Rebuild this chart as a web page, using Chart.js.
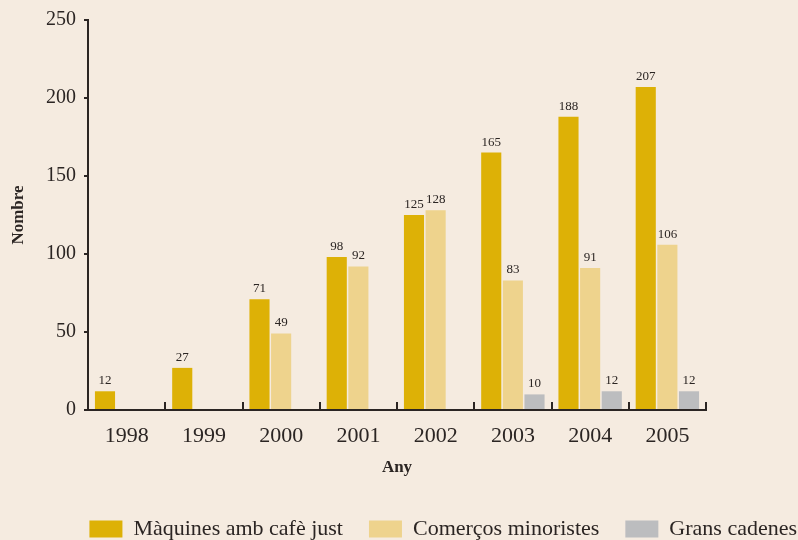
<!DOCTYPE html>
<html>
<head>
<meta charset="utf-8">
<script src="https://cdn.jsdelivr.net/npm/chart.js@4/dist/chart.umd.min.js"></script>
<style>
  html, body { margin: 0; padding: 0; background: #f5ebe0; }
  #wrap { width: 798px; height: 540px; }
</style>
</head>
<body>
<div id="wrap"><canvas id="grafic"></canvas></div>
<script>
const anys = ['1998', '1999', '2000', '2001', '2002', '2003', '2004', '2005'];
const maquines = [12, 27, 71, 98, 125, 165, 188, 207];
const comercos = [null, null, 49, 92, 128, 83, 91, 106];
const cadenes = [null, null, null, null, null, 10, 12, 12];
const yTicks = [0, 50, 100, 150, 200, 250];

const tinta = '#2b2523';
const serif = "'Liberation Serif', 'DejaVu Serif', serif";

// valors damunt de cada barra
const etiquetes = {
  id: 'etiquetes',
  afterDatasetsDraw(chart) {
    const c = chart.ctx;
    c.save();
    c.font = '13px ' + serif;
    c.fillStyle = tinta;
    c.textAlign = 'center';
    c.textBaseline = 'bottom';
    chart.data.datasets.forEach((ds, i) => {
      chart.getDatasetMeta(i).data.forEach((bar, j) => {
        if (ds.data[j] == null) return;
        c.fillText(ds.data[j], bar.x, bar.y - 4);
      });
    });
    c.restore();
  }
};

// marques de l'eix X cap amunt, entre categories
const marques = {
  id: 'marques',
  afterDraw(chart) {
    const x = chart.scales.x;
    const c = chart.ctx;
    const pas = (x.right - x.left) / anys.length;
    c.save();
    c.strokeStyle = tinta;
    c.lineWidth = 2;
    for (let i = 1; i <= anys.length; i++) {
      const px = Math.round(x.left + i * pas);
      c.beginPath();
      c.moveTo(px, x.top);
      c.lineTo(px, x.top - 8);
      c.stroke();
    }
    c.restore();
  }
};

new Chart(document.getElementById('grafic').getContext('2d'), {
  type: 'bar',
  data: {
    labels: anys,
    datasets: [
      { label: 'Màquines amb cafè just', data: maquines, backgroundColor: '#ddb106' },
      { label: 'Comerços minoristes', data: comercos, backgroundColor: '#eed38d' },
      { label: 'Grans cadenes', data: cadenes, backgroundColor: '#bcbdbf' }
    ]
  },
  options: {
    responsive: true,
    maintainAspectRatio: false,
    animation: false,
    categoryPercentage: 0.84,
    barPercentage: 0.93,
    layout: { padding: { left: 0, right: -25, top: 10, bottom: -10 } },
    plugins: {
      legend: {
        position: 'bottom',
        align: 'end',
        labels: {
          boxWidth: 33,
          boxHeight: 17,
          padding: 26,
          color: tinta,
          font: { family: serif, size: 22 }
        }
      },
      tooltip: { enabled: false }
    },
    scales: {
      x: {
        grid: { display: false, drawTicks: false },
        border: { display: true, color: tinta, width: 2 },
        ticks: { color: tinta, padding: 13, font: { family: serif, size: 22 } },
        title: { display: true, text: 'Any', color: tinta, padding: { top: 4, bottom: 14 },
                 font: { family: serif, size: 17, weight: 'bold' } },
        afterFit: s => { s.height = 82; }
      },
      y: {
        min: 0,
        max: 250,
        afterBuildTicks: s => { s.ticks = yTicks.map(v => ({ value: v })); },
        grid: { drawOnChartArea: false, tickLength: 4, color: tinta, lineWidth: 2 },
        border: { display: true, color: tinta, width: 2 },
        ticks: { color: tinta, padding: 8, font: { family: serif, size: 20 } },
        title: { display: true, text: 'Nombre', color: tinta, padding: { top: 8, bottom: 4 },
                 font: { family: serif, size: 17, weight: 'bold' } },
        afterFit: s => { s.width = 88; }
      },
      // espai buit a la dreta de l'àrea del gràfic
      marge: {
        position: 'right',
        grid: { display: false },
        border: { display: false },
        ticks: { display: false },
        afterFit: s => { s.width = 117; }
      }
    }
  },
  plugins: [etiquetes, marques]
});
</script>
</body>
</html>
